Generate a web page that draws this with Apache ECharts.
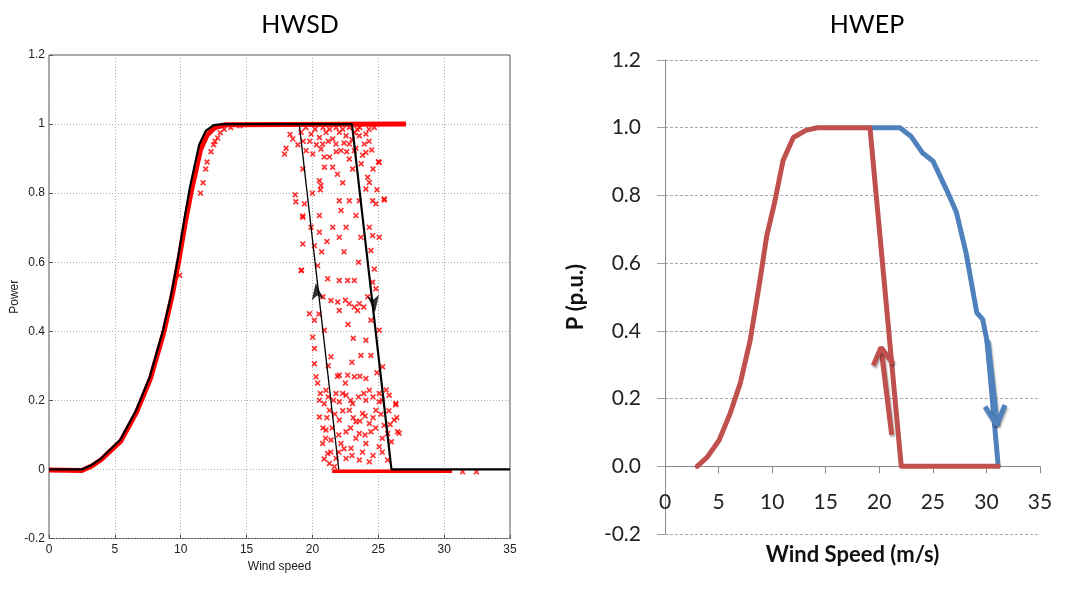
<!DOCTYPE html>
<html>
<head>
<meta charset="utf-8">
<script src="https://cdn.jsdelivr.net/npm/echarts@6/dist/echarts.min.js"></script>
<style>html,body{margin:0;padding:0;background:#fff}#c{width:1075px;height:597px}</style>
</head>
<body>
<div id="c"></div>
<script>
// ---------- Left panel: HWSD ----------
var xTicks = [0, 5, 10, 15, 20, 25, 30, 35];
var yTicks = [-0.2, 0, 0.2, 0.4, 0.6, 0.8, 1, 1.2];

// model power curve with hysteresis (black)
var hwsdCurve = [[0,0],[2.5,0],[3.2,0.012],[3.9,0.03],[5.4,0.085],[6.6,0.17],[7.65,0.268],[8.66,0.403],[9.3,0.51],[9.8,0.614],[10.3,0.73],[10.7,0.817],[11.4,0.94],[11.9,0.98],[12.5,0.997],[13.2,1],[23,1],[26,0],[35,0]];
var hwsdInner = [[19,1],[22,0]];
// direction arrows on the hysteresis branches: [x, y]
var hwsdArrowUp = [[20.25,0.54]];
var hwsdArrowDown = [[24.75,0.455]];

// dense measured band (red)
var hwsdBandRise = [[0,-0.002],[2.5,-0.003],[3.25,0.01],[3.95,0.028],[5.45,0.082],[6.65,0.166],[7.7,0.263],[8.72,0.398],[9.36,0.505],[9.87,0.608],[10.38,0.722],[10.8,0.805],[11.5,0.925],[12.0,0.968],[12.6,0.99],[13.4,0.998],[27.1,1]];
var hwsdBandZero = [[21.5,-0.005],[30.6,-0.005]];

// scattered measurements (red x)
var hwsdScatter = [
 [17.88,0.913],[18.0,0.93],[18.3,0.97],[19.14,0.976],[19.9,0.971],[20.53,0.961],[21.03,0.976],[21.54,0.957],[22.04,0.976],[22.55,0.966],
 [20.78,0.942],[21.79,0.942],[22.17,0.923],[22.8,0.942],[23.56,0.966],[24.06,0.971],[23.94,0.942],[24.06,0.918],[23.18,0.923],[19.52,0.923],
 [18.51,0.957],[20.02,0.913],[20.65,0.928],[22.8,0.899],[25.07,0.889],[19.27,0.87],[20.91,0.875],[21.54,0.875],[23.05,0.87],[24.19,0.846],
 [20.53,0.836],[20.65,0.822],[24.32,0.831],[24.06,0.812],[19.39,0.769],[22.04,0.778],[22.8,0.778],[23.56,0.778],[24.57,0.778],[25.45,0.783],
 [24.82,0.769],[19.27,0.73],[20.53,0.735],[22.17,0.75],[23.3,0.735],[19.9,0.701],[21.54,0.701],[22.55,0.701],[24.32,0.701],[20.53,0.687],
 [22.04,0.672],[23.68,0.672],[24.57,0.677],[25.07,0.672],[19.27,0.653],[20.15,0.648],[24.44,0.634],[19.14,0.576],[21.16,0.552],[22.04,0.547],
 [22.67,0.547],[23.18,0.547],[24.57,0.542],[24.82,0.523],[21.41,0.489],[21.92,0.485],[22.8,0.48],[23.18,0.47],[23.56,0.48],[23.43,0.46],
 [19.77,0.451],[22.04,0.46],[20.15,0.432],[20.91,0.403],[24.44,0.432],[25.07,0.403],[20.02,0.383],[24.06,0.374],[20.15,0.35],[21.41,0.326],
 [23.68,0.33],[24.44,0.33],[25.33,0.297],[20.15,0.306],[20.27,0.268],[22.04,0.273],[22.67,0.273],[23.18,0.268],[24.06,0.263],[21.03,0.229],
 [21.79,0.22],[22.55,0.215],[24.32,0.229],[25.07,0.22],[25.83,0.215],[20.53,0.2],[22.04,0.196],[23.05,0.191],[24.06,0.2],[25.07,0.196],
 [26.34,0.191],[21.29,0.171],[22.8,0.171],[23.81,0.162],[24.82,0.171],[20.53,0.152],[22.04,0.143],[23.3,0.138],[24.32,0.133],[25.45,0.128],
 [26.21,0.143],[21.03,0.114],[22.55,0.109],[23.56,0.104],[24.44,0.109],[25.71,0.104],[26.46,0.109],[20.78,0.075],[21.41,0.085],[22.17,0.075],
 [22.93,0.061],[24.06,0.075],[25.07,0.066],[21.16,0.046],[21.79,0.032],[22.55,0.032],[23.56,0.027],[24.32,0.022],[25.71,0.027],[21.29,0.017],
 [21.67,0.008],[19.18,0.577],[18.74,0.775],[19.26,0.734],[18.69,0.795],[25.01,0.891],[25.46,0.78],[26.32,0.187],[26.58,0.105],[20.4,0.59],
 [12.3,0.92],[12.5,0.94],[12.8,0.96],[13.0,0.975],[13.3,0.985],[13.8,0.99],[14.5,0.995],[12.0,0.89],[11.9,0.87],[11.7,0.83],
 [11.5,0.8],[12.6,0.95],[9.92,0.562],[23.2,0.975],[23.4,0.985],[23.6,0.99],[24.3,0.985],[24.7,0.99],[31.4,-0.007],[32.45,-0.007],
 [19.5,0.99],[20.2,0.985],[20.8,0.99],[21.3,0.985],[21.8,0.99],[22.3,0.985],[22.8,0.99],[19.8,0.95],[20.3,0.94],[21.2,0.95],
 [21.8,0.92],[22.4,0.945],[23.0,0.955],[23.3,0.93],[23.8,0.91],[24.3,0.95],[24.5,0.925],[18.9,0.94],[19.3,0.95],[20.9,0.905],
 [21.3,0.905],[22.6,0.92],[23.7,0.885],[24.6,0.87],[24.9,0.81],[20.0,0.8],[20.6,0.81],[22.3,0.83],[21.9,0.855],
 [20.9,0.19],[21.2,0.21],[21.6,0.2],[22.3,0.22],[22.9,0.2],[23.5,0.21],[23.9,0.22],[24.6,0.21],[25.3,0.2],[25.6,0.23],
 [21.1,0.15],[21.7,0.16],[22.3,0.17],[23.1,0.15],[23.6,0.14],[24.0,0.155],[24.6,0.15],[25.2,0.16],[25.8,0.17],[20.8,0.12],
 [21.5,0.12],[22.0,0.1],[22.9,0.12],[23.3,0.09],[24.0,0.1],[24.8,0.12],[25.3,0.09],[26.0,0.08],[20.9,0.03],[21.4,0.05],
 [22.0,0.05],[22.4,0.06],[23.0,0.04],[23.8,0.05],[24.6,0.04],[25.3,0.05],[21.0,0.09],[20.6,0.22],[20.4,0.25],[25.9,0.13],
 [26.4,0.15],[21.9,0.27],[23.6,0.27],[24.9,0.28],[22.5,0.25],[21.2,0.3],[23.0,0.31],
 [20.8,0.5],[22.5,0.49],[23.9,0.47],[24.2,0.5],[20.5,0.45],[22.7,0.42],[23.1,0.38],[20.7,0.63],[23.5,0.6],[24.7,0.58],
 [21.1,0.66],[22.4,0.63]
];

// ---------- Right panel: HWEP ----------
var hwepRed = [[3.0,0],[3.94,0.027],[5.05,0.077],[6.09,0.157],[7.02,0.245],[7.95,0.372],[8.88,0.553],[9.49,0.68],[10.2,0.775],[11.02,0.903],[11.98,0.971],[13.15,0.992],[14.2,1],[19.13,1],[22.05,0],[31.1,0]];
var hwepBlue = [[19.13,1],[21.93,1],[22.95,0.975],[24.05,0.925],[25.0,0.902],[26.3,0.815],[27.2,0.75],[28.1,0.63],[29.1,0.454],[29.65,0.434],[30.1,0.363],[30.6,0.18],[31.1,0]];
var hwepArrowRedShaft = [[21.16,0.093],[20.16,0.351]];
var hwepArrowRedHead = [[19.44,0.298],[20.16,0.351],[21.3,0.303]];
var hwepArrowBlueShaft = [[30.09,0.371],[30.96,0.122]];
var hwepArrowBlueHead = [[29.87,0.176],[30.96,0.122],[31.73,0.181]];

var titles = ['HWSD', 'HWEP'];

var XMARK = 'path://M0,2L2,0L5,3L8,0L10,2L7,5L10,8L8,10L5,7L2,10L0,8L3,5Z';
var leftFont = 'Liberation Sans';
var rightFont = 'Lato';
var RED = '#C0504D', BLUE = '#4F81BD';
var arrowShadow = {shadowColor:'rgba(0,0,0,0.35)', shadowBlur:2, shadowOffsetX:1, shadowOffsetY:2};

var chart = echarts.init(document.getElementById('c'), null, {renderer:'canvas'});
chart.setOption({
  animation: false,
  backgroundColor: '#fff',
  title: [
    {text: titles[0], left: 295, top: 7, textAlign: 'center', textStyle: {fontFamily: rightFont, fontSize: 25, fontWeight: 'normal', color: '#000'}},
    {text: titles[1], left: 862, top: 7, textAlign: 'center', textStyle: {fontFamily: rightFont, fontSize: 25, fontWeight: 'normal', color: '#000'}}
  ],
  grid: [
    {left: 49, right: 565, top: 55, bottom: 58.5, show: true, borderColor: '#555', borderWidth: 1, backgroundColor: '#fff', containLabel: false, outerBoundsMode: 'none'},
    {left: 665, right: 35, top: 60, bottom: 63, containLabel: false, outerBoundsMode: 'none'}
  ],
  xAxis: [
    {gridIndex: 0, type: 'value', min: xTicks[0], max: xTicks[xTicks.length-1], interval: 5,
     axisLine: {show: false, onZero: false},
     axisTick: {show: true, inside: true, length: 4, lineStyle: {color: '#555'}},
     axisLabel: {margin: 5, fontFamily: leftFont, fontSize: 12, color: '#222'},
     splitLine: {show: true, lineStyle: {type: [1,2], color: '#b0b0b0'}},
     name: 'Wind speed', nameLocation: 'middle', nameGap: 21,
     nameTextStyle: {fontFamily: leftFont, fontSize: 12, color: '#222'}},
    {gridIndex: 1, type: 'value', min: xTicks[0], max: xTicks[xTicks.length-1], interval: 5,
     axisLine: {show: true, onZero: true, lineStyle: {color: '#8a8a8a', width: 1}},
     axisTick: {show: true, length: 7, lineStyle: {color: '#8a8a8a'}},
     axisLabel: {margin: -42, fontFamily: rightFont, fontSize: 21, color: '#222'},
     splitLine: {show: false},
     name: 'Wind Speed (m/s)', nameLocation: 'middle', nameGap: 10,
     nameTextStyle: {fontFamily: rightFont, fontSize: 22, fontWeight: 'bold', color: '#111'}}
  ],
  yAxis: [
    {gridIndex: 0, type: 'value', min: yTicks[0], max: yTicks[yTicks.length-1], interval: 0.2,
     axisLine: {show: false, onZero: false},
     axisTick: {show: true, inside: true, length: 4, lineStyle: {color: '#555'}},
     axisLabel: {margin: 4, fontFamily: leftFont, fontSize: 12, color: '#222'},
     splitLine: {show: true, lineStyle: {type: [1,2], color: '#b0b0b0'}},
     name: 'Power', nameLocation: 'middle', nameGap: 28, nameRotate: 90,
     nameTextStyle: {fontFamily: leftFont, fontSize: 12, color: '#222'}},
    {gridIndex: 1, type: 'value', min: yTicks[0], max: yTicks[yTicks.length-1], interval: 0.2,
     axisLine: {show: true, onZero: false, lineStyle: {color: '#8a8a8a', width: 1}},
     axisTick: {show: true, length: 8, lineStyle: {color: '#a0a0a0'}},
     axisLabel: {margin: 24, fontFamily: rightFont, fontSize: 21, color: '#222', formatter: function(v){return v.toFixed(1);}},
     splitLine: {show: true, lineStyle: {type: [3,2], color: '#a6a6a6'}},
     name: 'P (p.u.)', nameLocation: 'middle', nameGap: 78, nameRotate: 90,
     nameTextStyle: {fontFamily: rightFont, fontSize: 22, fontWeight: 'bold', color: '#111'}}
  ],
  series: [
    // left
    {type: 'line', xAxisIndex: 0, yAxisIndex: 0, data: hwsdBandRise, showSymbol: false, lineStyle: {color: '#ff0000', width: 5}, z: 2},
    {type: 'line', xAxisIndex: 0, yAxisIndex: 0, data: hwsdBandZero, showSymbol: false, lineStyle: {color: '#ff0000', width: 3.5}, z: 2},
    {type: 'scatter', xAxisIndex: 0, yAxisIndex: 0, data: hwsdScatter, symbol: XMARK, symbolSize: 6, itemStyle: {color: '#ff0000'}, z: 3},
    {type: 'line', xAxisIndex: 0, yAxisIndex: 0, data: hwsdCurve, showSymbol: false, lineStyle: {color: '#000', width: 2.2}, z: 4},
    {type: 'line', xAxisIndex: 0, yAxisIndex: 0, data: hwsdInner, showSymbol: false, lineStyle: {color: '#000', width: 1.3}, z: 4},
    {type: 'scatter', xAxisIndex: 0, yAxisIndex: 0, data: hwsdArrowUp, symbol: 'arrow', symbolSize: [9, 17], symbolRotate: 6.5, itemStyle: {color: '#000'}, z: 5},
    {type: 'scatter', xAxisIndex: 0, yAxisIndex: 0, data: hwsdArrowDown, symbol: 'arrow', symbolSize: [9, 17], symbolRotate: 186.5, itemStyle: {color: '#000'}, z: 5},
    // right
    {type: 'line', xAxisIndex: 1, yAxisIndex: 1, data: hwepBlue, showSymbol: false, lineStyle: {color: BLUE, width: 5, join: 'round', cap: 'round'}, z: 2},
    {type: 'line', xAxisIndex: 1, yAxisIndex: 1, data: hwepRed, showSymbol: false, lineStyle: {color: RED, width: 5, join: 'round', cap: 'round'}, z: 3},
    {type: 'line', xAxisIndex: 1, yAxisIndex: 1, data: hwepArrowRedShaft, showSymbol: false, lineStyle: Object.assign({color: RED, width: 5}, arrowShadow), z: 4},
    {type: 'line', xAxisIndex: 1, yAxisIndex: 1, data: hwepArrowRedHead, showSymbol: false, lineStyle: Object.assign({color: RED, width: 5}, arrowShadow), z: 4},
    {type: 'line', xAxisIndex: 1, yAxisIndex: 1, data: hwepArrowBlueShaft, showSymbol: false, lineStyle: Object.assign({color: BLUE, width: 6}, arrowShadow), z: 4},
    {type: 'line', xAxisIndex: 1, yAxisIndex: 1, data: hwepArrowBlueHead, showSymbol: false, lineStyle: Object.assign({color: BLUE, width: 5}, arrowShadow), z: 4}
  ]
});
</script>
</body>
</html>
